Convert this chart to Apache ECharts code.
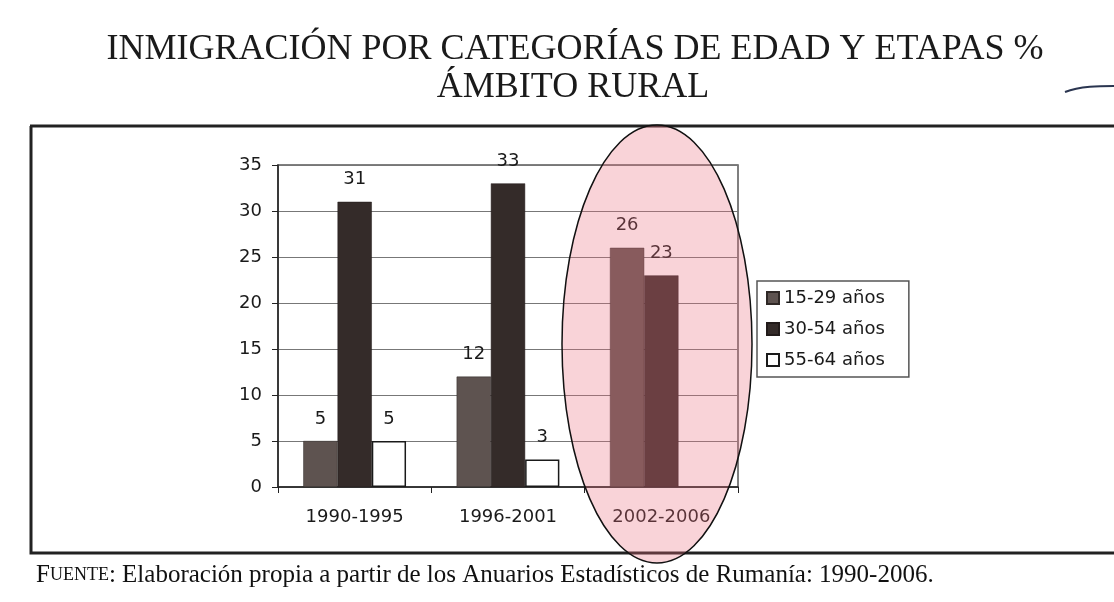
<!DOCTYPE html>
<html><head><meta charset="utf-8">
<script src="https://cdn.jsdelivr.net/npm/echarts@6/dist/echarts.min.js"></script>
<style>html,body{margin:0;padding:0;background:#fff}#c{width:1114px;height:602px}</style>
</head><body><div id="c"></div>
<script>
const categories = ['1990-1995', '1996-2001', '2002-2006'];
const seriesNames = ['15-29 años', '30-54 años', '55-64 años'];
const s1529 = [5, 12, 26];
const s3054 = [31, 33, 23];
const s5564 = [5, 3, null];
const yTicks = [0, 5, 10, 15, 20, 25, 30, 35];

const SANS = '"DejaVu Sans", "Liberation Sans", Arial';
const chart = echarts.init(document.getElementById('c'));
const lbl = {show: true, position: 'top', distance: 13, fontFamily: SANS, fontSize: 18, color: '#1a1a1a'};
chart.setOption({
  backgroundColor: '#fff',
  animation: false,
  grid: {left: 278, right: 376, top: 165, bottom: 115, show: true, borderColor: '#555', borderWidth: 1.5, backgroundColor: '#fff'},
  legend: {
    orient: 'vertical', left: 757, top: 281, padding: [8, 24, 8, 9], itemGap: 13,
    itemWidth: 12, itemHeight: 12, borderColor: '#555', borderWidth: 1.5,
    textStyle: {fontFamily: SANS, fontSize: 18, color: '#1a1a1a'},
    data: seriesNames.map(n => ({name: n, icon: 'rect'}))
  },
  xAxis: {
    type: 'category', data: categories,
    axisLine: {lineStyle: {color: '#222', width: 1.5}},
    axisTick: {show: true, length: 6, lineStyle: {color: '#222'}},
    axisLabel: {margin: 21, fontFamily: SANS, fontSize: 18, color: '#1a1a1a'}
  },
  yAxis: {
    type: 'value', min: yTicks[0], max: yTicks[yTicks.length - 1], interval: 5,
    axisLine: {show: true, lineStyle: {color: '#222', width: 1.5}},
    axisTick: {show: true, length: 6, lineStyle: {color: '#222'}},
    axisLabel: {margin: 16, fontFamily: SANS, fontSize: 18, color: '#1a1a1a'},
    splitLine: {lineStyle: {color: '#777', width: 1}}
  },
  series: [
    {name: seriesNames[0], type: 'bar', data: s1529, barGap: '0%', barCategoryGap: '33%',
     itemStyle: {color: '#5e5350', borderColor: '#2f2826', borderWidth: 0.5}, label: lbl},
    {name: seriesNames[1], type: 'bar', data: s3054,
     itemStyle: {color: '#342b29', borderColor: '#221b1a', borderWidth: 0.5}, label: lbl},
    {name: seriesNames[2], type: 'bar', data: s5564,
     itemStyle: {color: '#fff', borderColor: '#1a1a1a', borderWidth: 1.5}, label: lbl}
  ],
  graphic: [
    {type: 'text', x: 575, y: 32, style: {text: 'INMIGRACIÓN POR CATEGORÍAS DE EDAD Y ETAPAS %', textAlign: 'center', textVerticalAlign: 'top', font: '36px "Liberation Serif", "Times New Roman", serif', fill: '#1a1a1a'}},
    {type: 'text', x: 573, y: 70, style: {text: 'ÁMBITO RURAL', textAlign: 'center', textVerticalAlign: 'top', font: '36px "Liberation Serif", "Times New Roman", serif', fill: '#1a1a1a'}},
    {type: 'polyline', shape: {points: [[30, 126], [1114, 126]]}, style: {stroke: '#222', lineWidth: 3}},
    {type: 'polyline', shape: {points: [[31, 126], [31, 553], [1114, 553]]}, style: {stroke: '#222', lineWidth: 3, fill: null}},
    {type: 'ellipse', shape: {cx: 657, cy: 344, rx: 95, ry: 219}, z: 100, style: {fill: 'rgba(235,110,125,0.3)', stroke: '#111', lineWidth: 1.5}},
    {type: 'text', left: 36, top: 563, style: {
      text: '{a|F}{b|UENTE}{c|: Elaboración propia a partir de los Anuarios Estadísticos de Rumanía: 1990-2006.}',
      rich: {
        a: {font: '25px "Liberation Serif", serif', fill: '#111'},
        b: {font: '18px "Liberation Serif", serif', fill: '#111'},
        c: {font: '25px "Liberation Serif", serif', fill: '#111'}
      }}},
    {type: 'bezierCurve', shape: {x1: 1065, y1: 92, x2: 1114, y2: 86, cpx1: 1080, cpy1: 86, cpx2: 1100, cpy2: 86}, style: {stroke: '#2a3550', lineWidth: 2, fill: null}}
  ]
});
</script></body></html>
